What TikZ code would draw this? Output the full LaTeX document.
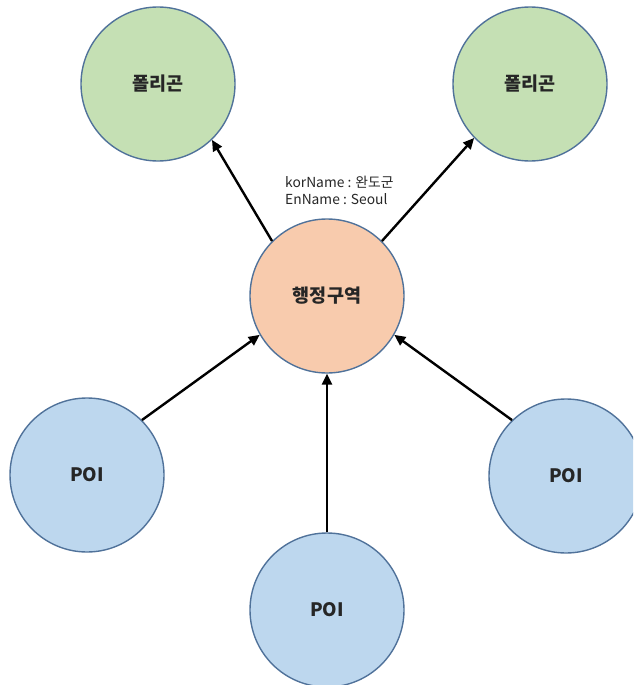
\documentclass[tikz,border=0pt]{standalone}
\usepackage{fontspec}
\setmainfont{Noto Sans CJK KR}
\usetikzlibrary{arrows.meta}
\definecolor{ringline}{HTML}{50729A}
\definecolor{greenfill}{HTML}{C5E0B4}
\definecolor{peachfill}{HTML}{F8CBAD}
\definecolor{bluefill}{HTML}{BDD7EE}
\tikzset{
  blob/.style={circle, draw=ringline, line width=1.4pt, minimum size=154pt, inner sep=0pt,
               font=\fontsize{18.5}{20}\selectfont\bfseries, text=black!85},
  polygon/.style={blob, fill=greenfill},
  region/.style={blob, fill=peachfill},
  poi/.style={blob, fill=bluefill},
  link/.style={line width=2.4pt, -{Triangle[length=11pt, width=10pt]}},
}
\begin{document}
\begin{tikzpicture}[x=1pt, y=-1pt]
  \useasboundingbox (0,0) rectangle (633,685);
  \clip (0,0) rectangle (633,685);

  % nodes
  \node[polygon] (polyL) at (158,84) {폴리곤};
  \node[polygon] (polyR) at (530,84) {폴리곤};
  \node[region]  (admin) at (327,296) {행정구역};
  \node[poi] (poiL) at (87,475) {POI};
  \node[poi] (poiR) at (566,476) {POI};
  \node[poi] (poiB) at (327,610) {POI};

  % attribute label
  \node[anchor=west, align=left, font=\fontsize{13.8}{17}\selectfont, text=black!85, inner sep=0pt]
    (attrs) at (285,190) {korName : 완도군\\EnName : Seoul};

  % connectors
  \draw[link] (admin.135) -- (polyL.-46);
  \draw[link] (admin.45) -- (polyR.224);
  \draw[link] (poiL.45) -- (admin.210);
  \draw[link] (poiR.134) -- (admin.330);
  \draw[link] (poiB.90) -- (admin.270);
\end{tikzpicture}
\end{document}
